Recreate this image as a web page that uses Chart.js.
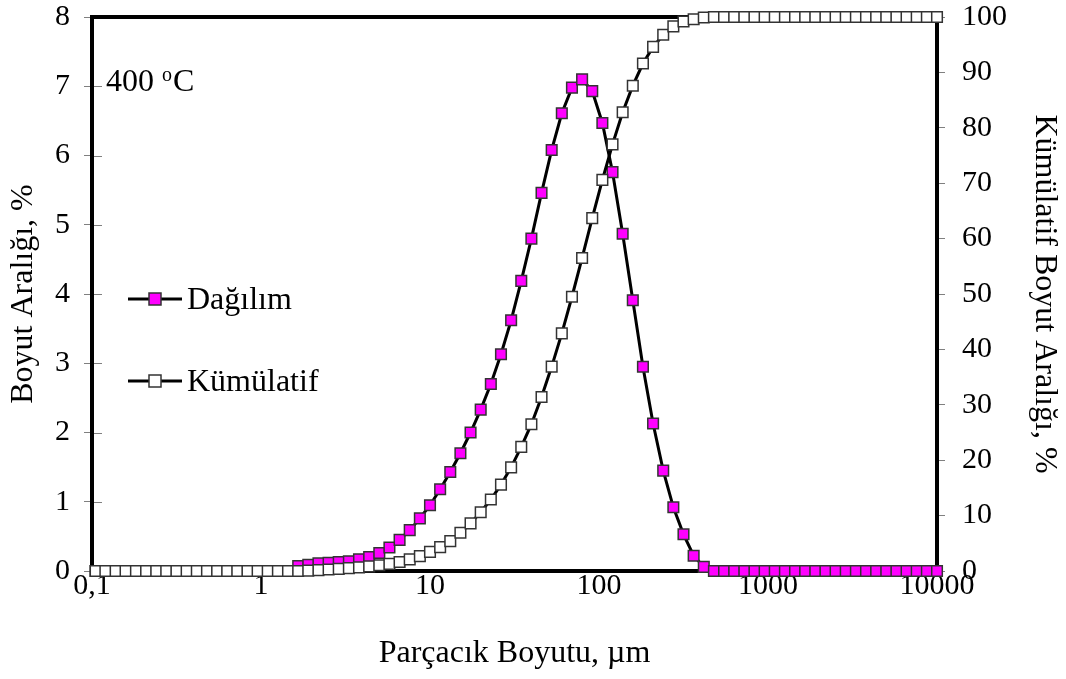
<!DOCTYPE html>
<html>
<head>
<meta charset="utf-8">
<script src="https://cdn.jsdelivr.net/npm/chart.js@4"></script>
<style>
  html, body { margin: 0; padding: 0; background: #fff; }
  canvas { display: block; }
</style>
</head>
<body>
<canvas id="psdChart" width="1066" height="679"></canvas>
<script>
// particle size classes, µm
const sizes = [
  0.105, 0.120, 0.138, 0.158, 0.182, 0.209, 0.240, 0.275, 0.316, 0.363,
  0.417, 0.479, 0.550, 0.631, 0.724, 0.832, 0.955, 1.096, 1.259, 1.445,
  1.660, 1.905, 2.188, 2.512, 2.884, 3.311, 3.802, 4.365, 5.012, 5.754,
  6.607, 7.586, 8.710, 10.000, 11.482, 13.183, 15.136, 17.378, 19.953, 22.909,
  26.303, 30.200, 34.674, 39.811, 45.709, 52.481, 60.256, 69.183, 79.433, 91.201,
  104.713, 120.226, 138.038, 158.489, 181.970, 208.930, 239.883, 275.423, 316.228, 363.078,
  416.869, 478.630, 549.541, 630.957, 724.436, 831.764, 954.993, 1096.478, 1258.925, 1445.440,
  1659.587, 1905.461, 2187.762, 2511.886, 2884.032, 3311.311, 3801.894, 4365.158, 5011.872, 5754.399,
  6606.934, 7585.776, 8709.636, 10000
];

// Dağılım, % (left axis)
const dagilim = [
  0, 0, 0, 0, 0, 0, 0, 0, 0, 0,
  0, 0, 0, 0, 0, 0, 0, 0, 0, 0,
  0.07, 0.09, 0.11, 0.12, 0.13, 0.14, 0.17, 0.20, 0.26, 0.34,
  0.45, 0.59, 0.76, 0.95, 1.18, 1.43, 1.70, 2.00, 2.33, 2.70,
  3.13, 3.62, 4.19, 4.80, 5.46, 6.08, 6.61, 6.98, 7.10, 6.93,
  6.47, 5.76, 4.87, 3.91, 2.95, 2.13, 1.45, 0.92, 0.53, 0.22,
  0.06, 0, 0, 0, 0, 0, 0, 0, 0, 0,
  0, 0, 0, 0, 0, 0, 0, 0, 0, 0,
  0, 0, 0, 0
];

// Kümülatif, % (right axis)
const kumulatif = [
  0, 0, 0, 0, 0, 0, 0, 0, 0, 0,
  0, 0, 0, 0, 0, 0, 0, 0, 0, 0,
  0, 0.07, 0.16, 0.27, 0.39, 0.52, 0.66, 0.83, 1.03, 1.29,
  1.63, 2.09, 2.69, 3.46, 4.3, 5.4, 6.9, 8.6, 10.6, 12.9,
  15.6, 18.7, 22.4, 26.5, 31.4, 36.9, 42.9, 49.5, 56.5, 63.7,
  70.6, 77.0, 82.8, 87.6, 91.6, 94.6, 96.8, 98.3, 99.2, 99.6,
  99.9, 100, 100, 100, 100, 100, 100, 100, 100, 100,
  100, 100, 100, 100, 100, 100, 100, 100, 100, 100,
  100, 100, 100, 100
];

const xTicks = [0.1, 1, 10, 100, 1000, 10000];
const xTickLabels = ['0,1', '1', '10', '100', '1000', '10000'];

const FONT = 'Liberation Serif, Times New Roman, serif';

// ==========================
// EXTRAS: frame, inner ticks, legend, label
// ==========================
const chartExtras = {
    id: 'chartExtras',
    beforeDatasetsDraw(chart) {
        const { ctx, chartArea: a, scales } = chart;
        ctx.save();
        // inward ticks on the left axis
        ctx.strokeStyle = '#808080';
        ctx.lineWidth = 1;
        scales.y.ticks.forEach(t => {
            const y = Math.round(scales.y.getPixelForValue(t.value)) + 0.5;
            ctx.beginPath();
            ctx.moveTo(a.left, y);
            ctx.lineTo(a.left + 10, y);
            ctx.stroke();
        });
        // plot frame
        ctx.strokeStyle = '#000';
        ctx.lineWidth = 4;
        ctx.strokeRect(a.left, a.top, a.right - a.left, a.bottom - a.top);
        ctx.restore();
    },
    afterDraw(chart) {
        const { ctx } = chart;
        ctx.save();
        ctx.fillStyle = '#000';
        ctx.textBaseline = 'alphabetic';

        // 400 °C
        ctx.font = '32px ' + FONT;
        ctx.fillText('400 ', 106, 91);
        const w = ctx.measureText('400 ').width;
        ctx.font = '20px ' + FONT;
        ctx.fillText('o', 106 + w, 81);
        const wo = ctx.measureText('o').width;
        ctx.font = '32px ' + FONT;
        ctx.fillText('C', 106 + w + wo + 1, 91);

        // legend
        const items = [
            { label: 'Dağılım', fill: '#ff00ff', y: 299 },
            { label: 'Kümülatif', fill: '#ffffff', y: 381 }
        ];
        items.forEach(it => {
            ctx.strokeStyle = '#000';
            ctx.lineWidth = 3;
            ctx.beginPath();
            ctx.moveTo(128, it.y);
            ctx.lineTo(182, it.y);
            ctx.stroke();
            ctx.fillStyle = it.fill;
            ctx.fillRect(149, it.y - 6, 12, 12);
            ctx.strokeStyle = '#333';
            ctx.lineWidth = 1.5;
            ctx.strokeRect(149, it.y - 6, 12, 12);
            ctx.fillStyle = '#000';
            ctx.font = '32px ' + FONT;
            ctx.fillText(it.label, 187, it.y + 10);
        });
        ctx.restore();
    }
};

// fixed axis boxes so the plot area lands where the original is
const fitY = w => scale => {
    scale.width = w;
    scale.paddingTop = 0;
    scale.paddingBottom = 0;
};

const canvas = document.getElementById('psdChart');

new Chart(canvas, {
    type: 'line',
    data: {
        datasets: [{
            label: 'Dağılım',
            data: sizes.map((s, i) => ({ x: s, y: dagilim[i] })),
            yAxisID: 'y',
            borderColor: '#000',
            borderWidth: 3,
            pointStyle: 'rect',
            pointRadius: 7.5,
            pointBackgroundColor: '#ff00ff',
            pointBorderColor: '#333',
            pointBorderWidth: 1.5,
            clip: false,
            order: 2
        }, {
            label: 'Kümülatif',
            data: sizes.map((s, i) => ({ x: s, y: kumulatif[i] })),
            yAxisID: 'y1',
            borderColor: '#000',
            borderWidth: 3,
            pointStyle: 'rect',
            pointRadius: 7.5,
            pointBackgroundColor: '#ffffff',
            pointBorderColor: '#333',
            pointBorderWidth: 1.5,
            clip: false,
            order: 1
        }]
    },
    options: {
        responsive: false,
        animation: false,
        devicePixelRatio: 1,
        layout: { padding: { top: 17, left: 0, right: 0, bottom: 0 } },
        plugins: {
            legend: { display: false },
            tooltip: { enabled: false }
        },
        scales: {
            x: {
                type: 'logarithmic',
                min: 0.1,
                max: 10000,
                afterBuildTicks: scale => {
                    scale.ticks = xTicks.map(v => ({ value: v }));
                },
                afterFit: scale => {
                    scale.height = 108;
                    scale.paddingLeft = 0;
                    scale.paddingRight = 0;
                },
                grid: { display: false },
                border: { display: false },
                ticks: {
                    autoSkip: false,
                    maxRotation: 0,
                    padding: -8,
                    color: '#000',
                    font: { family: FONT, size: 30, lineHeight: 1 },
                    callback: v => {
                        const i = xTicks.indexOf(v);
                        return i >= 0 ? xTickLabels[i] : '';
                    }
                },
                title: {
                    display: true,
                    text: 'Parçacık Boyutu, µm',
                    color: '#000',
                    font: { family: FONT, size: 32 },
                    padding: { top: 0, bottom: 6 }
                }
            },
            y: {
                position: 'left',
                min: 0,
                max: 8,
                afterFit: fitY(92),
                grid: {
                    drawOnChartArea: false,
                    drawTicks: true,
                    tickLength: 8,
                    color: '#808080'
                },
                border: { display: false },
                ticks: {
                    stepSize: 1,
                    padding: 14,
                    color: '#000',
                    font: { family: FONT, size: 30, lineHeight: 1 }
                },
                title: {
                    display: true,
                    text: 'Boyut Aralığı, %',
                    color: '#000',
                    font: { family: FONT, size: 32 },
                    padding: { top: 4, bottom: 0 }
                }
            },
            y1: {
                position: 'right',
                min: 0,
                max: 100,
                afterFit: fitY(129),
                grid: {
                    drawOnChartArea: false,
                    drawTicks: true,
                    tickLength: 8,
                    color: '#808080'
                },
                border: { display: false },
                ticks: {
                    stepSize: 10,
                    padding: 17,
                    color: '#000',
                    font: { family: FONT, size: 30, lineHeight: 1 }
                },
                title: {
                    display: true,
                    text: 'Kümülatif Boyut Aralığı, %',
                    color: '#000',
                    font: { family: FONT, size: 32 },
                    padding: { top: 2, bottom: 0 }
                }
            }
        }
    },
    plugins: [chartExtras]
});
</script>
</body>
</html>
